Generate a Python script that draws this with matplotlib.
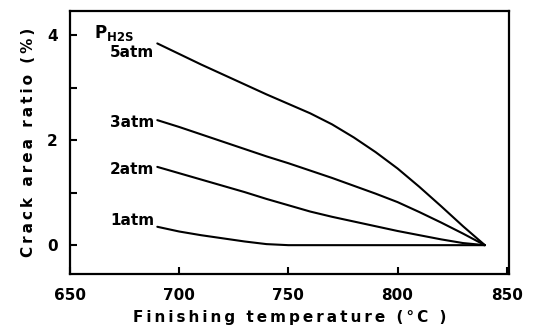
import numpy as np
import matplotlib.pyplot as plt
from matplotlib.ticker import MultipleLocator

# Finishing temperature (deg C) and crack area ratio (%)
temp = [690, 700, 710, 720, 730, 740, 750, 760, 770, 780, 790, 800, 810, 820, 830, 840]
crack_5atm = [3.84, 3.64, 3.44, 3.25, 3.06, 2.87, 2.69, 2.51, 2.30, 2.05, 1.77, 1.46, 1.11, 0.74, 0.36, 0.0]
crack_3atm = [2.38, 2.25, 2.11, 1.97, 1.83, 1.69, 1.56, 1.42, 1.28, 1.13, 0.98, 0.82, 0.63, 0.43, 0.22, 0.0]
crack_2atm = [1.49, 1.37, 1.25, 1.13, 1.01, 0.88, 0.76, 0.64, 0.54, 0.45, 0.36, 0.27, 0.19, 0.11, 0.04, 0.0]
crack_1atm = [0.35, 0.26, 0.19, 0.13, 0.07, 0.02, 0.0, 0.0, 0.0, 0.0, 0.0, 0.0, 0.0, 0.0, 0.0, 0.0]

series = [crack_5atm, crack_3atm, crack_2atm, crack_1atm]
labels = ['5atm', '3atm', '2atm', '1atm']
label_y = [3.66, 2.33, 1.44, 0.47]

plt.rcParams['font.family'] = 'DejaVu Sans'
plt.rcParams['font.weight'] = 'bold'
plt.rcParams['mathtext.fontset'] = 'dejavusans'


def spaced(s):
    # typewriter-like letter spacing of the original figure
    return '\u2009'.join(s)


fig = plt.figure(figsize=(5.34, 3.29), dpi=100)
ax = fig.add_axes([0.131, 0.167, 0.822, 0.800])

for ys in series:
    ax.plot(temp, ys, color='black', lw=1.5, solid_capstyle='round')

for lab, y in zip(labels, label_y):
    ax.text(688.5, y, lab, ha='right', va='center', fontsize=11, fontweight='bold')
ax.text(661, 4.03, r'$\mathbf{P_{H2S}}$', ha='left', va='center', fontsize=12)

ax.set_xlim(650, 851)
ax.set_ylim(-0.55, 4.46)
ax.set_xticks([650, 700, 750, 800, 850])
ax.set_yticks([0, 2, 4])
ax.yaxis.set_minor_locator(MultipleLocator(1))
ax.tick_params(direction='in', length=5, width=1.5, labelsize=11, pad=9)
ax.tick_params(axis='y', which='minor', direction='in', length=5, width=1.5)
ax.tick_params(axis='x', pad=10)
for sp in ax.spines.values():
    sp.set_linewidth(1.6)

ax.set_xlabel(spaced('Finishing temperature (°C )'), fontsize=11, fontweight='bold', labelpad=5)
ax.set_ylabel(spaced('Crack area ratio (%)'), fontsize=11, fontweight='bold', labelpad=8)

fig.savefig('out.png', dpi=100)
